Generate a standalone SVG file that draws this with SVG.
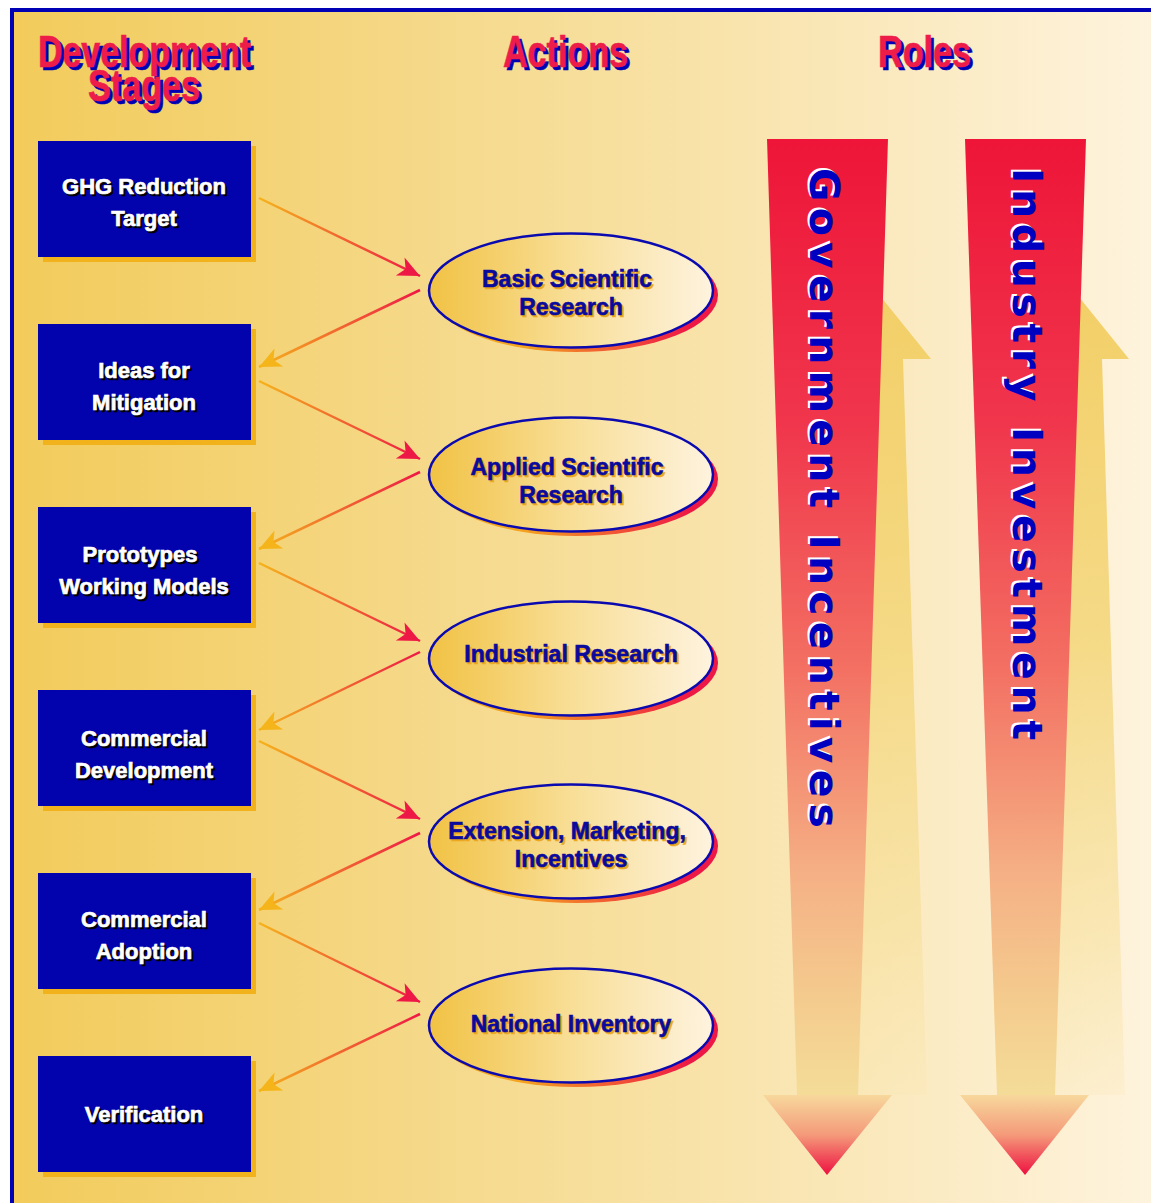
<svg xmlns="http://www.w3.org/2000/svg" width="1151" height="1203" viewBox="0 0 1151 1203">
<defs>
<linearGradient id="bg" x1="0" y1="0" x2="1" y2="0">
<stop offset="0" stop-color="#F2CB5A"/>
<stop offset="0.45" stop-color="#F6DC94"/>
<stop offset="1" stop-color="#FEF3DD"/>
</linearGradient>
<linearGradient id="ellFill" x1="0" y1="0" x2="1" y2="0">
<stop offset="0" stop-color="#F1C244"/>
<stop offset="0.5" stop-color="#F8DE96"/>
<stop offset="1" stop-color="#FEF3DF"/>
</linearGradient>
<linearGradient id="ellShadow" x1="0" y1="0" x2="1" y2="0">
<stop offset="0.3" stop-color="#F5A51E"/>
<stop offset="0.9" stop-color="#EE1846"/>
</linearGradient>
<linearGradient id="conn" x1="0" y1="0" x2="1" y2="0">
<stop offset="0" stop-color="#F5B41A"/>
<stop offset="1" stop-color="#EE1846"/>
</linearGradient>
<linearGradient id="shaft" x1="0" y1="139" x2="0" y2="1095" gradientUnits="userSpaceOnUse">
<stop offset="0" stop-color="#EE1538"/>
<stop offset="0.3" stop-color="#F0364C"/>
<stop offset="0.55" stop-color="#F36F62"/>
<stop offset="0.78" stop-color="#F5B386"/>
<stop offset="0.9" stop-color="#F4CB8E"/>
<stop offset="1" stop-color="#F4DC98"/>
</linearGradient>
<linearGradient id="head" x1="0" y1="0" x2="0" y2="1">
<stop offset="0" stop-color="#F7D89C"/>
<stop offset="0.5" stop-color="#F49A7A"/>
<stop offset="1" stop-color="#EE1040"/>
</linearGradient>
<linearGradient id="up" x1="0" y1="271" x2="0" y2="1095" gradientUnits="userSpaceOnUse">
<stop offset="0" stop-color="#F2CE64" stop-opacity="1"/>
<stop offset="0.45" stop-color="#F4D77E" stop-opacity="0.9"/>
<stop offset="0.8" stop-color="#F6DE96" stop-opacity="0.55"/>
<stop offset="1" stop-color="#F8E4A8" stop-opacity="0.2"/>
</linearGradient>
<marker id="hr" markerUnits="userSpaceOnUse" viewBox="-24 -12 26 24" markerWidth="26" markerHeight="24" refX="0" refY="0" orient="auto">
<path d="M0,0 L-22,-10 L-16,0 L-22,10 Z" fill="#EE1846"/>
</marker>
<marker id="ho" markerUnits="userSpaceOnUse" viewBox="-24 -12 26 24" markerWidth="26" markerHeight="24" refX="0" refY="0" orient="auto">
<path d="M0,0 L-22,-10 L-16,0 L-22,10 Z" fill="#F5B41A"/>
</marker>
</defs>
<style>
.hdr{font-family:"Liberation Sans",Arial,sans-serif;font-weight:bold;font-size:44px;text-anchor:middle}
.hdr .s{fill:#0000B4;stroke:#0000B4;stroke-width:0.6}
.hdr .f{fill:#EE1C48;stroke:#EE1C48;stroke-width:0.6}
.box{fill:#0303AD}
.bsh{fill:#F2B21C}
.bt{font-family:"Liberation Sans",Arial,sans-serif;font-weight:bold;font-size:22px;text-anchor:middle}
.bt .s{fill:#000;stroke:#000;stroke-width:0.7}
.bt .f{fill:#fff;stroke:#fff;stroke-width:0.7}
.ell{fill:url(#ellFill);stroke:#0A0AB0;stroke-width:2.5}
.esh{fill:url(#ellShadow)}
.et{font-family:"Liberation Sans",Arial,sans-serif;font-weight:bold;font-size:23px;text-anchor:middle}
.et .s{fill:#EBA820;stroke:#EBA820;stroke-width:0.6}
.et .f{fill:#0A0A9C;stroke:#0A0A9C;stroke-width:0.6}
.c{fill:none;stroke:url(#conn);stroke-width:2.5}
.vt{font-family:"DejaVu Sans",Verdana,sans-serif;font-weight:bold;font-size:41px}
</style>
<rect x="0" y="0" width="1151" height="1203" fill="#fff"/>
<rect x="10" y="8" width="1141" height="1195" fill="url(#bg)"/>
<rect x="10" y="8" width="1141" height="4" fill="#0000B4"/>
<rect x="10" y="8" width="4" height="1195" fill="#0000B4"/>

<g id="headers" class="hdr">
<text class="s" x="147.5" y="70" textLength="213" lengthAdjust="spacingAndGlyphs">Development</text>
<text class="f" x="144.5" y="67" textLength="213" lengthAdjust="spacingAndGlyphs">Development</text>
<text class="s" x="147" y="104" textLength="112" lengthAdjust="spacingAndGlyphs">Stages</text>
<text class="f" x="144" y="101" textLength="112" lengthAdjust="spacingAndGlyphs">Stages</text>
<text class="s" x="568.5" y="70" textLength="125" lengthAdjust="spacingAndGlyphs">Actions</text>
<text class="f" x="565.5" y="67" textLength="125" lengthAdjust="spacingAndGlyphs">Actions</text>
<text class="s" x="927.5" y="70" textLength="93" lengthAdjust="spacingAndGlyphs">Roles</text>
<text class="f" x="924.5" y="67" textLength="93" lengthAdjust="spacingAndGlyphs">Roles</text>
</g>

<g id="roles">
<g id="gov-up"><polygon points="860,271 931,359 903,359 927,1095 800,1095 817,359 789,359" fill="url(#up)"/></g>
<g id="ind-up"><polygon points="1058,271 1129,359 1102,359 1125,1095 1000,1095 1014,359 987,359" fill="url(#up)"/></g>
<g id="government">
<polygon points="767,139 888,139 858,1095 797,1095" fill="url(#shaft)"/>
<polygon points="763,1095 892,1095 827,1175" fill="url(#head)"/>
<text class="vt" fill="#fff" transform="translate(808,166) rotate(90)" textLength="660" lengthAdjust="spacing">Government Incentives</text>
<text class="vt" fill="#0000C0" transform="translate(810,168) rotate(90)" textLength="660" lengthAdjust="spacing">Government Incentives</text>
</g>
<g id="industry">
<polygon points="965,139 1086,139 1055,1095 997,1095" fill="url(#shaft)"/>
<polygon points="960,1095 1089,1095 1025,1175" fill="url(#head)"/>
<text class="vt" fill="#fff" transform="translate(1011,166) rotate(90)" textLength="572" lengthAdjust="spacing">Industry Investment</text>
<text class="vt" fill="#0000C0" transform="translate(1013,168) rotate(90)" textLength="572" lengthAdjust="spacing">Industry Investment</text>
</g>
</g>

<g id="connectors">
<path class="c" d="M259,198 L420,276" marker-end="url(#hr)"/>
<path class="c" d="M420,290 L259,367" marker-end="url(#ho)"/>
<path class="c" d="M259,381 L420,459" marker-end="url(#hr)"/>
<path class="c" d="M420,472 L259,549" marker-end="url(#ho)"/>
<path class="c" d="M259,563 L420,641" marker-end="url(#hr)"/>
<path class="c" d="M420,652 L259,730" marker-end="url(#ho)"/>
<path class="c" d="M259,741 L420,819" marker-end="url(#hr)"/>
<path class="c" d="M420,833 L259,910" marker-end="url(#ho)"/>
<path class="c" d="M259,923 L420,1002" marker-end="url(#hr)"/>
<path class="c" d="M420,1014 L259,1091" marker-end="url(#ho)"/>
</g>

<g id="stage-ghg">
<rect class="bsh" x="43" y="146" width="213" height="116"/>
<rect class="box" x="38" y="141" width="213" height="116"/>
<g class="bt"><text class="s" x="146" y="196">GHG Reduction</text><text class="f" x="144" y="194">GHG Reduction</text>
<text class="s" x="146" y="228">Target</text><text class="f" x="144" y="226">Target</text></g>
</g>
<g id="stage-ideas">
<rect class="bsh" x="43" y="329" width="213" height="116"/>
<rect class="box" x="38" y="324" width="213" height="116"/>
<g class="bt"><text class="s" x="146" y="380">Ideas for</text><text class="f" x="144" y="378">Ideas for</text>
<text class="s" x="146" y="412">Mitigation</text><text class="f" x="144" y="410">Mitigation</text></g>
</g>
<g id="stage-proto">
<rect class="bsh" x="43" y="512" width="213" height="116"/>
<rect class="box" x="38" y="507" width="213" height="116"/>
<g class="bt"><text class="s" x="142" y="564">Prototypes</text><text class="f" x="140" y="562">Prototypes</text>
<text class="s" x="146" y="596">Working Models</text><text class="f" x="144" y="594">Working Models</text></g>
</g>
<g id="stage-comdev">
<rect class="bsh" x="43" y="695" width="213" height="116"/>
<rect class="box" x="38" y="690" width="213" height="116"/>
<g class="bt"><text class="s" x="146" y="748">Commercial</text><text class="f" x="144" y="746">Commercial</text>
<text class="s" x="146" y="780">Development</text><text class="f" x="144" y="778">Development</text></g>
</g>
<g id="stage-comadopt">
<rect class="bsh" x="43" y="878" width="213" height="116"/>
<rect class="box" x="38" y="873" width="213" height="116"/>
<g class="bt"><text class="s" x="146" y="929">Commercial</text><text class="f" x="144" y="927">Commercial</text>
<text class="s" x="146" y="961">Adoption</text><text class="f" x="144" y="959">Adoption</text></g>
</g>
<g id="stage-verif">
<rect class="bsh" x="43" y="1061" width="213" height="116"/>
<rect class="box" x="38" y="1056" width="213" height="116"/>
<g class="bt"><text class="s" x="146" y="1124">Verification</text><text class="f" x="144" y="1122">Verification</text></g>
</g>

<g id="action-basic">
<ellipse class="esh" cx="576" cy="295" rx="142" ry="57"/>
<ellipse class="ell" cx="571" cy="290.5" rx="142" ry="57"/>
<g class="et"><text class="s" x="569" y="289">Basic Scientific</text><text class="f" x="567" y="287">Basic Scientific</text>
<text class="s" x="573" y="317">Research</text><text class="f" x="571" y="315">Research</text></g>
</g>
<g id="action-applied">
<ellipse class="esh" cx="576" cy="479" rx="142" ry="57"/>
<ellipse class="ell" cx="571" cy="474.5" rx="142" ry="57"/>
<g class="et"><text class="s" x="569" y="477">Applied Scientific</text><text class="f" x="567" y="475">Applied Scientific</text>
<text class="s" x="573" y="505">Research</text><text class="f" x="571" y="503">Research</text></g>
</g>
<g id="action-industrial">
<ellipse class="esh" cx="576" cy="663" rx="142" ry="57"/>
<ellipse class="ell" cx="571" cy="658.5" rx="142" ry="57"/>
<g class="et"><text class="s" x="573" y="664">Industrial Research</text><text class="f" x="571" y="662">Industrial Research</text></g>
</g>
<g id="action-extension">
<ellipse class="esh" cx="576" cy="846" rx="142" ry="57"/>
<ellipse class="ell" cx="571" cy="841.5" rx="142" ry="57"/>
<g class="et"><text class="s" x="569" y="841">Extension, Marketing,</text><text class="f" x="567" y="839">Extension, Marketing,</text>
<text class="s" x="573" y="869">Incentives</text><text class="f" x="571" y="867">Incentives</text></g>
</g>
<g id="action-inventory">
<ellipse class="esh" cx="576" cy="1030" rx="142" ry="57"/>
<ellipse class="ell" cx="571" cy="1025.5" rx="142" ry="57"/>
<g class="et"><text class="s" x="573" y="1034">National Inventory</text><text class="f" x="571" y="1032">National Inventory</text></g>
</g>
</svg>
